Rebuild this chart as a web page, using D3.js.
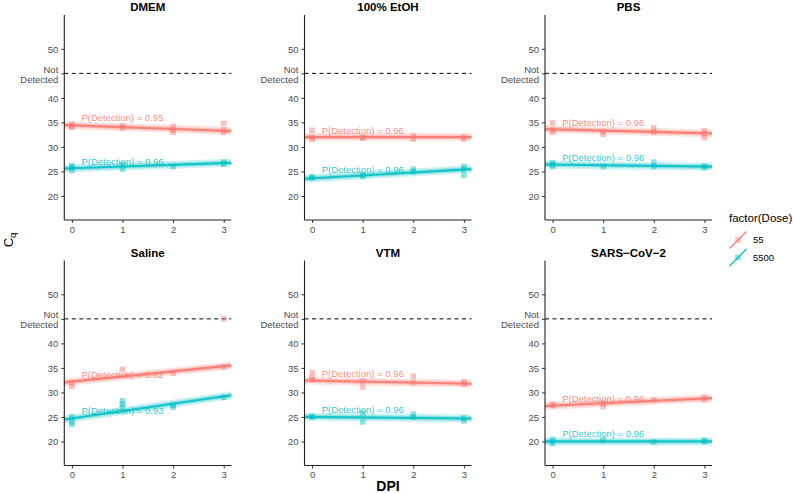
<!DOCTYPE html>
<html><head><meta charset="utf-8">
<script src="https://cdn.jsdelivr.net/npm/d3@7"></script>
<style>body{margin:0;background:#fff}svg{display:block;font-family:"Liberation Sans",Arial,Helvetica,sans-serif}</style>
</head><body>
<svg id="chart" width="793" height="493"></svg>
<script>
const panels = ["DMEM", "100% EtOH", "PBS", "Saline", "VTM", "SARS\u2212CoV\u22122"];
const doses = ["55", "5500"];
const colors = ["#F8766D", "#00BFC4"];
const xTicks = [0, 1, 2, 3];
const yTicks = [20, 25, 30, 35, 40, 45, 50];
const yTickLabels = ["20", "25", "30", "35", "40", "Not\nDetected", "50"];
const notDetected = 45;

// fitted Cq at DPI 0 and DPI 3
const fitStart55 = [34.4, 32.0, 33.6, 32.2, 32.4, 27.3];
const fitEnd55 = [33.3, 32.0, 32.8, 35.35, 31.8, 28.75];
const fitStart5500 = [25.65, 23.6, 26.4, 24.7, 25.0, 20.0];
const fitEnd5500 = [26.7, 25.4, 26.0, 29.2, 24.7, 20.0];

const pDet55 = ["0.95", "0.96", "0.96", "0.82", "0.96", "0.96"];
const pDet5500 = ["0.96", "0.96", "0.96", "0.93", "0.96", "0.96"];
const labelY55 = [35.9, 33.3, 35.0, 33.6, 33.85, 28.8];
const labelY5500 = [27.0, 25.3, 27.8, 26.2, 26.45, 21.5];

const points55 = [
  [[0,34.6],[0,34.2],[0,34.0],[1,34.3],[1,33.8],[2,33.5],[2,34.2],[2,33.0],[3,34.8],[3,33.0],[3,33.5]],
  [[0,33.4],[0,31.5],[0,32.0],[1,32.0],[1,31.8],[2,32.3],[2,31.6],[3,31.6],[3,32.0]],
  [[0,34.9],[0,33.4],[0,33.0],[1,32.6],[1,33.1],[2,33.9],[2,33.0],[3,33.3],[3,31.9],[3,32.7]],
  [[0,31.2],[0,32.0],[1,34.7],[2,33.9],[3,45.0],[3,35.2]],
  [[0,34.0],[0,32.6],[0,33.0],[1,31.1],[1,32.3],[2,33.3],[2,32.0],[3,31.7],[3,32.2]],
  [[0,27.3],[0,27.6],[1,27.1],[1,27.8],[2,28.5],[3,28.5],[3,29.0]]
];
const points5500 = [
  [[0,25.2],[0,26.2],[0,25.8],[1,25.5],[1,26.4],[2,26.0],[3,26.5],[3,26.9]],
  [[0,23.7],[0,23.9],[1,24.0],[1,24.3],[2,25.0],[2,25.5],[3,24.2],[3,25.4],[3,26.0]],
  [[0,26.0],[0,26.8],[0,26.4],[1,26.0],[2,26.0],[2,26.9],[3,25.8],[3,26.1]],
  [[0,24.0],[0,23.5],[0,25.0],[1,27.0],[1,28.3],[1,27.6],[2,27.0],[2,27.4],[3,29.0]],
  [[0,25.0],[0,25.1],[1,24.0],[1,25.8],[2,25.0],[2,25.6],[3,24.2],[3,24.8]],
  [[0,20.0],[0,19.6],[0,20.4],[1,20.3],[2,19.9],[3,20.0],[3,20.2]]
];

const svg = d3.select("#chart");
const pw = 167, colX = [64.3, 304.5, 545], rowY = [15, 260.5], ph = 205;
const xDomain = [-0.15, 3.15];
const yDomain = [15.1, 56.9];
const grey = "#4D4D4D";

panels.forEach((name, i) => {
  const c = i % 3, r = Math.floor(i / 3);
  const g = svg.append("g").attr("transform", `translate(${colX[c]},${rowY[r]})`);
  const x = d3.scaleLinear().domain(xDomain).range([0, pw]);
  const y = d3.scaleLinear().domain(yDomain).range([ph, 0]);

  g.append("text").attr("x", pw / 2).attr("y", -4).attr("text-anchor", "middle")
    .attr("font-weight", "bold").attr("font-size", "11.5px").attr("fill", "#000").text(name);

  g.append("line").attr("x1", 0).attr("x2", pw).attr("y1", y(notDetected)).attr("y2", y(notDetected))
    .attr("stroke", "#000").attr("stroke-width", 1).attr("stroke-dasharray", "4,3.5");

  const series = [
    {pts: points55[i], s: fitStart55[i], e: fitEnd55[i], p: pDet55[i], ly: labelY55[i], col: colors[0]},
    {pts: points5500[i], s: fitStart5500[i], e: fitEnd5500[i], p: pDet5500[i], ly: labelY5500[i], col: colors[1]}
  ];
  series.forEach(sr => {
    const fit = d3.scaleLinear().domain([0, 3]).range([sr.s, sr.e]);
    const lineData = xDomain.map(v => [v, fit(v)]);
    const ln = d3.line().x(d => x(d[0])).y(d => y(d[1]));
    g.append("path").attr("d", ln(lineData)).attr("fill", "none").attr("stroke", sr.col)
      .attr("stroke-width", 8).attr("stroke-opacity", 0.2);
    g.append("path").attr("d", ln(lineData)).attr("fill", "none").attr("stroke", sr.col)
      .attr("stroke-width", 4.5).attr("stroke-opacity", 0.3);
    g.selectAll(null).data(sr.pts).enter().append("rect")
      .attr("x", d => x(d[0]) - 2.8).attr("y", d => y(d[1]) - 2.8)
      .attr("width", 5.6).attr("height", 5.6).attr("fill", sr.col).attr("fill-opacity", 0.45);
    g.append("path").attr("d", ln(lineData)).attr("fill", "none").attr("stroke", sr.col)
      .attr("stroke-width", 2.2).attr("stroke-opacity", 0.85);
    g.append("text").attr("x", x(1)).attr("y", y(sr.ly)).attr("dy", "0.35em")
      .attr("text-anchor", "middle").attr("font-size", "9.5px").attr("fill", sr.col)
      .attr("fill-opacity", 0.85).text("P(Detection) = " + sr.p);
  });

  const ya = d3.axisLeft(y).tickValues(yTicks).tickSize(3).tickPadding(3).tickFormat(() => "");
  const yg = g.append("g").call(ya);
  yg.select(".domain").remove();
  yg.selectAll(".tick line").attr("stroke", "#333");
  yg.selectAll(".tick").each(function(d, k) {
    const lines = yTickLabels[k].split("\n");
    const t = d3.select(this).append("text").attr("x", -6).attr("text-anchor", "end")
      .attr("fill", grey).attr("font-size", "9.5px");
    if (lines.length === 1) {
      t.attr("dy", "0.35em").text(lines[0]);
    } else {
      t.append("tspan").attr("x", -6).attr("y", -4.6).attr("dy", "0.35em").text(lines[0]);
      t.append("tspan").attr("x", -6).attr("y", 5.7).attr("dy", "0.35em").text(lines[1]);
    }
  });
  const xa = d3.axisBottom(x).tickValues(xTicks).tickSize(3).tickPadding(3).tickFormat(d3.format("d"));
  const xg = g.append("g").attr("transform", `translate(0,${ph})`).call(xa);
  xg.select(".domain").remove();
  xg.selectAll(".tick line").attr("stroke", "#333");
  xg.selectAll(".tick text").attr("fill", grey).attr("font-size", "9.5px").attr("font-family", null);
  g.append("line").attr("x1", 0).attr("x2", 0).attr("y1", 0).attr("y2", ph).attr("stroke", "#222").attr("stroke-width", 1.1);
  g.append("line").attr("x1", 0).attr("x2", pw).attr("y1", ph).attr("y2", ph).attr("stroke", "#222").attr("stroke-width", 1.1);
});

svg.append("text").attr("x", 388).attr("y", 491).attr("text-anchor", "middle")
  .attr("font-weight", "bold").attr("font-size", "14px").text("DPI");
const yt = svg.append("text").attr("transform", "translate(13,240) rotate(-90)")
  .attr("text-anchor", "middle").attr("font-size", "13px");
yt.append("tspan").text("C");
yt.append("tspan").attr("font-size", "9.5px").attr("dy", "2.5").text("q");

const lg = svg.append("g").attr("transform", "translate(729,0)");
lg.append("text").attr("x", 0).attr("y", 222).attr("font-size", "11.5px").text("factor(Dose)");
doses.forEach((d, k) => {
  const cy = 240 + k * 17.5, cx = 9;
  lg.append("line").attr("x1", cx - 8.5).attr("y1", cy + 8.5).attr("x2", cx + 8.5).attr("y2", cy - 8.5)
    .attr("stroke", colors[k]).attr("stroke-width", 1.2);
  lg.append("rect").attr("x", cx - 2.8).attr("y", cy - 2.8).attr("width", 5.6).attr("height", 5.6)
    .attr("fill", colors[k]).attr("fill-opacity", 0.45);
  lg.append("text").attr("x", 24).attr("y", cy).attr("dy", "0.35em").attr("font-size", "9.5px").text(d);
});
</script>
</body></html>
